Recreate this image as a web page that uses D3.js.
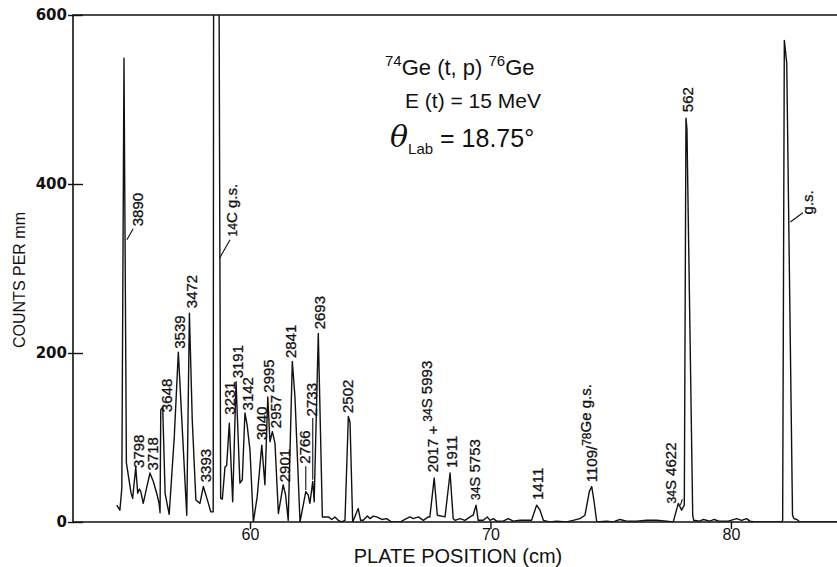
<!DOCTYPE html>
<html>
<head>
<meta charset="utf-8">
<script src="https://cdn.jsdelivr.net/npm/d3@7"></script>
<style>
  body { margin: 0; background: #fff; }
  text { fill: #111; }
</style>
</head>
<body>
<svg id="chart" width="837" height="567"></svg>
<script>
// spectrum trace: plate position (cm) vs counts per mm
const platePos = [
  54.46, 54.59, 54.67, 54.76, 54.86, 55.05, 55.12, 55.25, 55.33, 55.40, 55.46, 55.56,
  55.70, 55.84, 55.98, 56.12, 56.22, 56.26, 56.29, 56.37, 56.47, 56.64, 56.85, 57.02,
  57.37, 57.48, 57.60, 57.75, 57.92, 58.06, 58.27, 58.37, 58.47, 58.49, 58.70, 58.78,
  58.85, 58.96, 59.03, 59.14, 59.28, 59.42, 59.58, 59.68, 59.79, 59.88, 60.00, 60.14,
  60.30, 60.49, 60.62, 60.74, 60.83, 60.93, 61.04, 61.18, 61.38, 61.48, 61.59, 61.76,
  61.87, 62.08, 62.32, 62.42, 62.49, 62.61, 62.67, 62.84, 63.01, 63.26, 63.40, 63.53,
  63.67, 63.81, 63.95, 64.09, 64.16, 64.27, 64.50, 64.60, 64.71, 64.88, 64.99, 65.13,
  65.27, 65.48, 65.68, 65.89, 66.24, 66.44, 66.65, 66.79, 67.00, 67.21, 67.41, 67.48,
  67.66, 67.79, 68.11, 68.32, 68.45, 68.52, 68.73, 68.94, 69.15, 69.28, 69.40, 69.49,
  69.70, 69.87, 69.98, 70.12, 70.26, 70.53, 70.74, 70.95, 71.23, 71.51, 71.71, 71.92,
  72.06, 72.20, 72.47, 72.75, 73.17, 73.44, 73.72, 73.93, 74.11, 74.21, 74.30, 74.42,
  74.83, 75.11, 75.38, 75.66, 76.08, 76.49, 76.91, 77.33, 77.60, 77.81, 77.95, 78.02,
  78.06, 78.13, 78.17, 78.41, 78.45, 78.71, 78.85, 79.13, 79.30, 79.50, 79.89, 80.24,
  80.44, 80.65, 80.79, 81.00, 82.11, 82.15, 82.22, 82.32, 82.56, 82.62, 82.74, 82.87,
  84.41
]
const counts = [
  20, 14, 40, 549, 70, 35, 28, 65, 34, 39, 36, 22,
  40, 58, 48, 34, 22, 11, 133, 136, 34, 9, 100, 201,
  8, 247, 120, 26, 22, 42, 22, 12, 12, 750, 750, 28,
  27, 65, 67, 117, 24, 166, 46, 50, 129, 115, 85, 0,
  30, 91, 44, 148, 95, 107, 93, 10, 44, 32, 2, 190,
  148, 0, 36, 32, 22, 48, 24, 223, 6, 6, 3, 6,
  2, 0, 2, 125, 118, 0, 16, 2, 2, 7, 4, 7,
  6, 3, 4, 0, 0, 3, 6, 4, 6, 2, 6, 6,
  52, 8, 6, 58, 4, 2, 4, 2, 6, 8, 20, 2,
  2, 6, 2, 4, 1, 1, 4, 1, 2, 2, 2, 20,
  14, 2, 0, 1, 0, 2, 4, 8, 36, 42, 26, 0,
  1, 0, 3, 1, 1, 2, 2, 1, 0, 22, 14, 18,
  20, 478, 465, 8, 2, 1, 3, 1, 3, 1, 1, 4,
  2, 4, 1, 0, 0, 2, 570, 543, 8, 4, 3, 0,
  0
]

const xTicks = [60, 70, 80]
const yTicks = [0, 200, 400, 600]

// peak labels: text (^{..} = superscript), where the text starts (cm, counts)
const labelText = [
  "3890", "^{14}C g.s.", "3798", "3718", "3648", "3539", "3472", "3393", "3231", "3191",
  "3142", "3040", "2995", "2957", "2901", "2841", "2766", "2733", "2693", "2502",
  "2017 + ^{34}S 5993", "1911", "^{34}S  5753", "1411", "1109/^{78}Ge g.s.", "^{34}S  4622",
  "562", "g.s."
]
const labelPos = [
  55.34, 59.50, 55.36, 55.95, 56.51, 57.05, 57.55, 58.13, 59.14, 59.50,
  59.88, 60.46, 60.77, 61.08, 61.43, 61.70, 62.25, 62.54, 62.87, 64.07,
  67.61, 68.40, 69.60, 71.95, 74.20, 77.75,
  78.21, 83.20
]
const labelCount = [
  350, 338, 64, 61, 130, 205, 253, 47, 127, 170,
  132, 97, 153, 111, 47, 194, 69, 125, 228, 129,
  59, 64, 26, 26, 47, 22,
  485, 364
]

// leader lines from a peak to its label
const leadPos1 = [54.88, 58.73, 62.32, 62.61, 82.47, 77.90]
const leadCnt1 = [334, 312, 38, 50, 355, 20]
const leadPos2 = [55.14, 59.17, 62.32, 62.61, 82.99, 77.98]
const leadCnt2 = [347, 334, 66, 123, 366, 27]

const svg = d3.select("#chart")
const plotL = 73, plotR = 837, plotT = 15, plotB = 522

const x = d3.scaleLinear().domain([52.64, 84.41]).range([plotL, plotR])
const y = d3.scaleLinear().domain([0, 600]).range([plotB, plotT])

svg.append("defs").append("clipPath").attr("id", "plotClip")
  .append("rect")
  .attr("x", plotL).attr("y", plotT)
  .attr("width", plotR - plotL).attr("height", plotB - plotT)

// frame: left axis, top border, bottom axis
svg.append("path")
  .attr("d", `M${plotR},${plotT}H${plotL}V${plotB}H${plotR}`)
  .attr("fill", "none").attr("stroke", "#111").attr("stroke-width", 1.6)

const xAxis = svg.append("g")
  .attr("transform", `translate(0,${plotB})`)
  .call(d3.axisBottom(x).tickValues(xTicks).tickSize(7).tickSizeOuter(0).tickFormat(d3.format("d")))
xAxis.select(".domain").remove()
xAxis.selectAll("line").attr("stroke", "#111").attr("stroke-width", 1.4)
xAxis.selectAll("text")
  .attr("y", 18).attr("dy", 0)
  .attr("font-family", "Liberation Sans, Arial, sans-serif")
  .attr("font-size", 16).attr("fill", "#111")

const yAxis = svg.append("g")
  .attr("transform", `translate(${plotL},0)`)
  .call(d3.axisLeft(y).tickValues(yTicks).tickSize(5).tickSizeOuter(0))
yAxis.select(".domain").remove()
yAxis.selectAll(".tick line").attr("x2", 10).attr("x1", -5).attr("stroke", "#111").attr("stroke-width", 1.4)
yAxis.selectAll("text")
  .attr("x", -6)
  .attr("font-family", "DejaVu Sans, sans-serif").attr("font-weight", "bold")
  .attr("font-size", 15).attr("fill", "#111")

svg.append("text")
  .attr("x", 458).attr("y", 563)
  .attr("text-anchor", "middle")
  .attr("font-family", "Liberation Sans, Arial, sans-serif").attr("font-size", 20)
  .text("PLATE POSITION (cm)")

svg.append("text")
  .attr("transform", `translate(25,280) rotate(-90)`)
  .attr("text-anchor", "middle")
  .attr("font-family", "Liberation Sans, Arial, sans-serif").attr("font-size", 16)
  .text("COUNTS PER mm")

// the spectrum
const pts = platePos.map((p, i) => [p, counts[i]])
svg.append("path")
  .datum(pts)
  .attr("clip-path", "url(#plotClip)")
  .attr("fill", "none").attr("stroke", "#111").attr("stroke-width", 1.4)
  .attr("stroke-linejoin", "round")
  .attr("d", d3.line().x(d => x(d[0])).y(d => y(d[1])))

// leader lines
svg.selectAll(".lead")
  .data(leadPos1.map((p, i) => i))
  .join("line")
  .attr("class", "lead")
  .attr("x1", i => x(leadPos1[i])).attr("y1", i => y(leadCnt1[i]))
  .attr("x2", i => x(leadPos2[i])).attr("y2", i => y(leadCnt2[i]))
  .attr("stroke", "#111").attr("stroke-width", 1.1)

// rotated peak labels
const labels = svg.selectAll(".peak")
  .data(labelText.map((t, i) => i))
  .join("text")
  .attr("class", "peak")
  .attr("transform", i => `translate(${x(labelPos[i]) + 5.5},${y(labelCount[i])}) rotate(-90)`)
  .attr("font-family", "Liberation Sans, Arial, sans-serif")
  .attr("font-size", 15)
  .attr("stroke", "#111").attr("stroke-width", 0.3)

labels.each(function (i) {
  const el = d3.select(this)
  const parts = labelText[i].split(/\^\{(\d+)\}/)
  parts.forEach((s, k) => {
    if (s === "") return
    if (k % 2 === 1) {
      el.append("tspan").attr("font-size", 12).attr("dy", -6).text(s)
      el.append("tspan").attr("dy", 6).text("")
    } else {
      el.append("tspan").text(s)
    }
  })
})

// reaction annotation
const title = svg.append("g")
  .attr("font-family", "Liberation Sans, Arial, sans-serif")

const t1 = title.append("text").attr("x", 385).attr("y", 75).attr("font-size", 22)
t1.append("tspan").attr("font-size", 15).attr("dy", -9).text("74")
t1.append("tspan").attr("dy", 9).text("Ge (t, p) ")
t1.append("tspan").attr("font-size", 15).attr("dy", -9).text("76")
t1.append("tspan").attr("dy", 9).text("Ge")

title.append("text").attr("x", 405).attr("y", 108).attr("font-size", 21)
  .text("E (t) = 15 MeV")

const t3 = title.append("text").attr("x", 390).attr("y", 147)
t3.append("tspan").attr("font-size", 30).attr("font-style", "italic")
  .attr("font-family", "DejaVu Serif, serif").text("θ")
t3.append("tspan").attr("font-size", 15).attr("dy", 7).text("Lab")
t3.append("tspan").attr("font-size", 25).attr("dy", -7).text(" = 18.75°")
</script>
</body>
</html>
